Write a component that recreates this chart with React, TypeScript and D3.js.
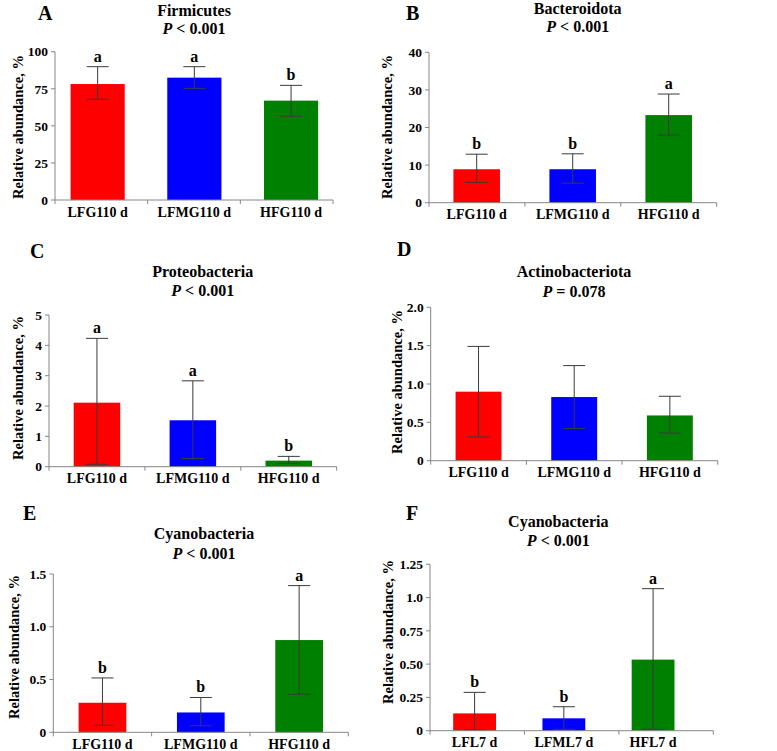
import React from 'react';
import * as d3 from 'd3';

// ---------- data ----------
const panelLetters = ['A', 'B', 'C', 'D', 'E', 'F'];
const taxa = ['Firmicutes', 'Bacteroidota', 'Proteobacteria', 'Actinobacteriota', 'Cyanobacteria', 'Cyanobacteria'];
const pTexts = ['< 0.001', '< 0.001', '< 0.001', '= 0.078', '< 0.001', '< 0.001'];

const groups110 = ['LFG110 d', 'LFMG110 d', 'HFG110 d'];
const groups7 = ['LFL7 d', 'LFML7 d', 'HFL7 d'];
const barColors = ['#ff0000', '#0000ff', '#008000'];

const meansA = [78.2, 82.5, 67.0];
const highA = [89.9, 89.9, 77.3];
const lowA = [67.9, 75.3, 56.4];
const lettersA = ['a', 'a', 'b'];
const ticksA = [0, 25, 50, 75, 100];
const tickLabelsA = ['0', '25', '50', '75', '100'];

const meansB = [8.9, 8.9, 23.3];
const highB = [12.9, 13.0, 28.9];
const lowB = [5.4, 5.2, 18.0];
const lettersB = ['b', 'b', 'a'];
const ticksB = [0, 10, 20, 30, 40];
const tickLabelsB = ['0', '10', '20', '30', '40'];

const meansC = [2.11, 1.53, 0.2];
const highC = [4.23, 2.83, 0.34];
const lowC = [0.08, 0.27, 0.11];
const lettersC = ['a', 'a', 'b'];
const ticksC = [0, 1, 2, 3, 4, 5];
const tickLabelsC = ['0', '1', '2', '3', '4', '5'];

const meansD = [0.9, 0.83, 0.59];
const highD = [1.49, 1.24, 0.84];
const lowD = [0.31, 0.42, 0.36];
const lettersD = ['', '', ''];
const ticksD = [0, 0.5, 1.0, 1.5, 2.0];
const tickLabelsD = ['0', '0.5', '1.0', '1.5', '2.0'];

const meansE = [0.28, 0.188, 0.874];
const highE = [0.515, 0.33, 1.39];
const lowE = [0.066, 0.062, 0.36];
const lettersE = ['b', 'b', 'a'];
const ticksE = [0, 0.5, 1.0, 1.5];
const tickLabelsE = ['0', '0.5', '1.0', '1.5'];

const meansF = [0.13, 0.093, 0.534];
const highF = [0.288, 0.18, 1.067];
const lowF = [0.005, 0.01, 0.01];
const lettersF = ['b', 'b', 'a'];
const ticksF = [0, 0.25, 0.5, 0.75, 1.0, 1.25];
const tickLabelsF = ['0', '0.25', '0.50', '0.75', '1.0', '1.25'];

const panelData = [
  { groups: groups110, means: meansA, high: highA, low: lowA, letters: lettersA, ticks: ticksA, tickLabels: tickLabelsA },
  { groups: groups110, means: meansB, high: highB, low: lowB, letters: lettersB, ticks: ticksB, tickLabels: tickLabelsB },
  { groups: groups110, means: meansC, high: highC, low: lowC, letters: lettersC, ticks: ticksC, tickLabels: tickLabelsC },
  { groups: groups110, means: meansD, high: highD, low: lowD, letters: lettersD, ticks: ticksD, tickLabels: tickLabelsD },
  { groups: groups110, means: meansE, high: highE, low: lowE, letters: lettersE, ticks: ticksE, tickLabels: tickLabelsE },
  { groups: groups7, means: meansF, high: highF, low: lowF, letters: lettersF, ticks: ticksF, tickLabels: tickLabelsF },
];

// ---------- layout ----------
const layouts = [
  { ax0: 55, ax1: 333, bx0: 49.3, bx1: 339.4, yTop: 51.7, yBot: 200, pad: 0.44, titleX: 194, titleY: 15.5, pY: 33.5, letX: 38, letY: 20, ylX: 23, ylY: 127 },
  { ax0: 429, ax1: 716.7, bx0: 428.7, bx1: 716.7, yTop: 52.3, yBot: 202.7, pad: 0.515, titleX: 577.7, titleY: 14, pY: 31.5, letX: 406, letY: 19.5, ylX: 392, ylY: 127 },
  { ax0: 49, ax1: 336.7, bx0: 49, bx1: 336.7, yTop: 315, yBot: 466.7, pad: 0.515, titleX: 202.7, titleY: 276.7, pY: 295.7, letX: 30, letY: 258, ylX: 23, ylY: 388 },
  { ax0: 430.7, ax1: 717.7, bx0: 430.7, bx1: 717.7, yTop: 307.3, yBot: 460.7, pad: 0.52, titleX: 574, titleY: 277.3, pY: 296.7, letX: 397, letY: 256, ylX: 402, ylY: 382 },
  { ax0: 53.3, ax1: 348.3, bx0: 53.3, bx1: 348.3, yTop: 574, yBot: 732.3, pad: 0.515, titleX: 204, titleY: 539.3, pY: 559.3, letX: 23, letY: 520, ylX: 18.5, ylY: 647 },
  { ax0: 430, ax1: 713.3, bx0: 430, bx1: 697.7, yTop: 564.3, yBot: 730.7, pad: 0.52, titleX: 558.3, titleY: 526.7, pY: 546, letX: 406, letY: 520, ylX: 393, ylY: 632 },
];

const FONT = "'Liberation Serif', 'Times New Roman', serif";
const AXIS = '#868686';
const ERR = '#3a3a3a';
const CAP = 22;

function Panel({ i }: { i: number }) {
  const d = panelData[i];
  const L = layouts[i];
  const y = d3.scaleLinear().domain([0, d3.max(d.ticks) as number]).range([L.yBot, L.yTop]);
  const axisX = d3.scaleBand<string>().domain(d.groups).range([L.ax0, L.ax1]).padding(0);
  const barX = d3.scaleBand<string>().domain(d.groups).range([L.bx0, L.bx1]).paddingInner(L.pad).paddingOuter(L.pad / 2);
  const bounds = d.groups.map((g) => axisX(g) as number).concat([L.ax1]);

  return (
    <g fontFamily={FONT} fontWeight="bold" fill="#000">
      <text x={L.letX} y={L.letY} fontSize={20}>{panelLetters[i]}</text>
      <text x={L.titleX} y={L.titleY} fontSize={16} textAnchor="middle">{taxa[i]}</text>
      <text x={L.titleX} y={L.pY} fontSize={16} textAnchor="middle">
        <tspan fontStyle="italic">P</tspan> {pTexts[i]}
      </text>
      <text transform={`translate(${L.ylX},${L.ylY}) rotate(-90)`} fontSize={14.5} textAnchor="middle">
        Relative abundance, %
      </text>
      {d.groups.map((g, k) => (
        <rect key={g} x={barX(g)} width={barX.bandwidth()} y={y(d.means[k])} height={L.yBot - y(d.means[k])} fill={barColors[k]} />
      ))}
      {d.groups.map((g, k) => {
        const cx = (barX(g) as number) + barX.bandwidth() / 2;
        return (
          <g key={g} stroke={ERR} strokeWidth={1} fill="none">
            <line x1={cx} x2={cx} y1={y(d.high[k])} y2={y(d.low[k])} />
            <line x1={cx - CAP / 2} x2={cx + CAP / 2} y1={y(d.high[k])} y2={y(d.high[k])} />
            <line x1={cx - CAP / 2} x2={cx + CAP / 2} y1={y(d.low[k])} y2={y(d.low[k])} />
          </g>
        );
      })}
      {d.groups.map((g, k) => {
        const cx = (barX(g) as number) + barX.bandwidth() / 2;
        return d.letters[k] ? (
          <text key={g} x={cx} y={y(d.high[k]) - 5} fontSize={16} textAnchor="middle">{d.letters[k]}</text>
        ) : null;
      })}
      <line x1={L.ax0} x2={L.ax0} y1={L.yTop} y2={L.yBot} stroke={AXIS} strokeWidth={1} />
      {d.ticks.map((t, k) => (
        <g key={t}>
          <line x1={L.ax0 - 4} x2={L.ax0} y1={y(t)} y2={y(t)} stroke={AXIS} strokeWidth={1} />
          <text x={L.ax0 - 7} y={y(t)} dy="0.35em" fontSize={13.5} textAnchor="end">{d.tickLabels[k]}</text>
        </g>
      ))}
      <line x1={L.ax0} x2={L.ax1} y1={L.yBot} y2={L.yBot} stroke={AXIS} strokeWidth={1} />
      {bounds.map((b, k) => (
        <line key={k} x1={b} x2={b} y1={L.yBot} y2={L.yBot + 4} stroke={AXIS} strokeWidth={1} />
      ))}
      {d.groups.map((g) => (
        <text key={g} x={(barX(g) as number) + barX.bandwidth() / 2} y={L.yBot + 16.5} fontSize={14} textAnchor="middle">{g}</text>
      ))}
    </g>
  );
}

export default function App() {
  return (
    <svg width={777} height={751} style={{ position: 'absolute', left: 0, top: 0, background: '#fff' }}>
      <rect width={777} height={751} fill="#fff" />
      {panelLetters.map((_, i) => (
        <Panel key={i} i={i} />
      ))}
    </svg>
  );
}
